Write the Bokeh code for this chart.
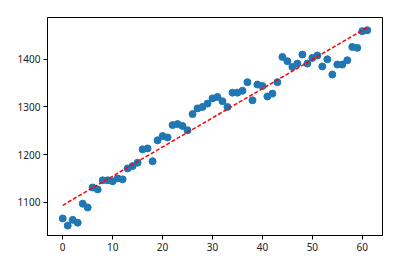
import numpy as np
from bokeh.plotting import figure
from bokeh.models import FixedTicker, Range1d
from bokeh.embed import file_html
from bokeh.resources import INLINE

x_vals = list(range(62))
y_vals = [1066, 1051, 1063, 1057, 1097, 1089, 1131, 1127, 1146, 1146,
          1144, 1150, 1148, 1171, 1176, 1183, 1211, 1213, 1186, 1230,
          1239, 1236, 1262, 1264, 1260, 1251, 1285, 1297, 1300, 1307,
          1318, 1321, 1312, 1300, 1330, 1330, 1334, 1352, 1314, 1347,
          1344, 1322, 1328, 1352, 1405, 1396, 1384, 1391, 1410, 1391,
          1403, 1408, 1385, 1400, 1368, 1389, 1389, 1398, 1426, 1424,
          1459, 1461]
x_ticks = [0, 10, 20, 30, 40, 50, 60]
y_ticks = [1100, 1200, 1300, 1400]

xa = np.array(x_vals, dtype=float)
ya = np.array(y_vals, dtype=float)
slope, intercept = np.polyfit(xa, ya, 1)
fit = slope * xa + intercept

xlo, xhi = xa.min(), xa.max()
ylo = min(ya.min(), fit.min())
yhi = max(ya.max(), fit.max())
xp = 0.05 * (xhi - xlo)
yp = 0.05 * (yhi - ylo)

p = figure(width=405, height=260, output_backend="svg", toolbar_location=None,
           x_range=Range1d(xlo - xp, xhi + xp), y_range=Range1d(ylo - yp, yhi + yp),
           min_border_left=47, min_border_right=23, min_border_top=17, min_border_bottom=25)
p.background_fill_color = "white"
p.border_fill_color = "white"
p.outline_line_color = "black"
p.outline_line_width = 1
p.xgrid.visible = False
p.ygrid.visible = False

p.scatter(xa, ya, size=7, color="#1f77b4", line_color="#1f77b4")
p.line(xa, fit, line_color="red", line_dash="4 2", line_width=1.5)

for ax, t in ((p.xaxis, x_ticks), (p.yaxis, y_ticks)):
    ax.ticker = FixedTicker(ticks=t)
    ax.minor_tick_line_color = None
    ax.major_tick_out = 4
    ax.major_tick_in = 0
    ax.axis_line_color = "black"
    ax.major_tick_line_color = "black"
    ax.major_label_text_font = "Noto Sans"
    ax.major_label_text_font_size = "10px"
    ax.major_label_text_color = "#222222"
    ax.major_label_standoff = 3

open("out.html", "w").write(file_html(p, INLINE))
